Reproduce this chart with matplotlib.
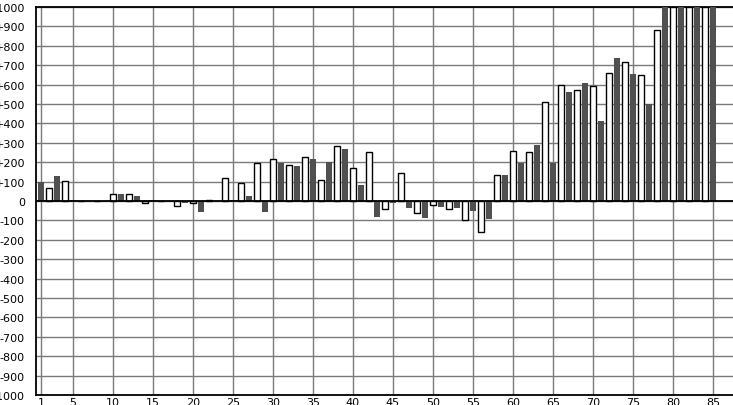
import matplotlib
matplotlib.use("Agg")
import matplotlib.pyplot as plt
import numpy as np

# Dark series at odd positions (1,3,...,85)
dark_positions = list(range(1, 86, 2))
dark_values = [98, 129, 5, 0, -5, 34, 26, 5, 0, -8,
               -59, 0, 7, 28, -59, 197, 178, 214, 203, 266,
               84, -84, -12, -38, -90, -33, -38, -53, -95, 134,
               197, 291, 197, 562, 608, 412, 737, 655, 498, 1000,
               1000, 1000, 1000]

# White series at even positions (2,4,...,84)
white_positions = list(range(2, 85, 2))
white_values = [67, 103, 0, 0, 34, 34, -8, 0, -24, -12,
                5, 119, 93, 197, 217, 186, 228, 109, 284, 171,
                253, -41, 145, -62, -21, -41, -98, -159, 134, 257,
                252, 510, 596, 572, 591, 660, 716, 648, 880, 1000,
                1000, 1000]

x_ticks = [1, 5, 10, 15, 20, 25, 30, 35, 40, 45, 50, 55, 60, 65, 70, 75, 80, 85]
y_ticks = list(range(-1000, 1001, 100))
y_labels = [("+%d" % v if v > 0 else str(v)) for v in y_ticks]

W, H = 733, 406
fig = plt.figure(figsize=(W / 100, H / 100), dpi=100)
ax = fig.add_axes([36 / W, 10 / H, (W - 36) / W, (396 - 8) / H])

ax.set_xlim(0.375, 87.5)
ax.set_ylim(-1000, 1000)

ax.set_xticks(x_ticks)
ax.set_xticklabels([str(t) for t in x_ticks])
ax.set_yticks(y_ticks)
ax.set_yticklabels(y_labels)

ax.grid(True, color="#7a7a7a", linewidth=1.0, zorder=0)
ax.set_axisbelow(True)

ax.bar(dark_positions, dark_values, width=0.75, color="#505050",
       edgecolor="none", zorder=3)
ax.bar(white_positions, white_values, width=0.75, color="white",
       edgecolor="black", linewidth=1.0, zorder=3)

ax.axhline(0, color="black", linewidth=1.3, zorder=4)

for s in ["left", "bottom", "top"]:
    ax.spines[s].set_color("black")
    ax.spines[s].set_linewidth(1.3)
ax.spines["right"].set_visible(False)

ax.tick_params(axis="both", length=0, labelsize=8, colors="black")
ax.tick_params(axis="y", pad=8)
ax.tick_params(axis="x", pad=1.5)

fig.savefig("out.png", dpi=100)
